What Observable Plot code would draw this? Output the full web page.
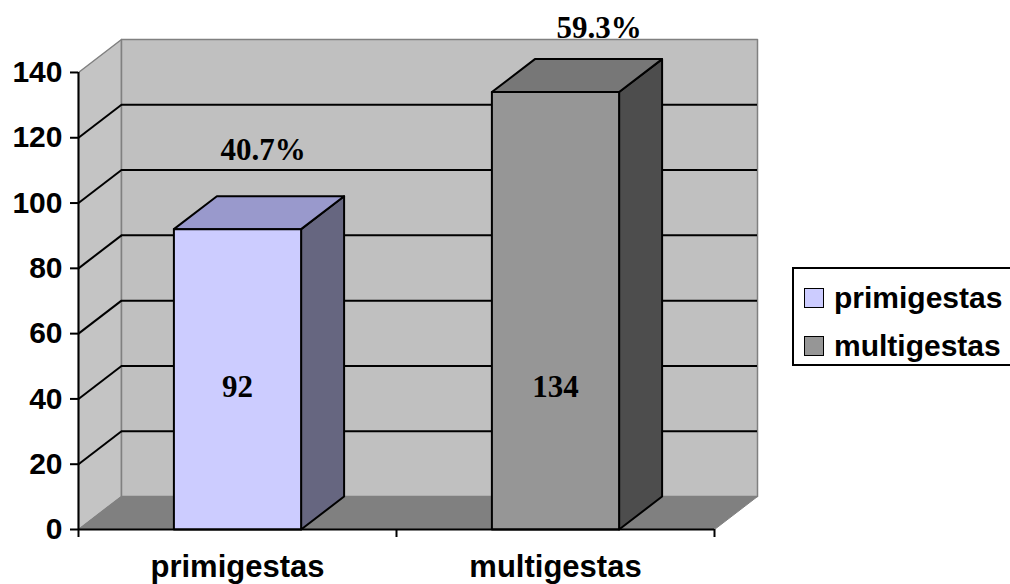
<!DOCTYPE html>
<html>
<head>
<meta charset="utf-8">
<script src="https://cdn.jsdelivr.net/npm/d3@7"></script>
<script src="https://cdn.jsdelivr.net/npm/@observablehq/plot@0.6"></script>
<style>
  html, body { margin: 0; padding: 0; background: #fff; overflow: hidden; }
  #wrap { position: relative; width: 1010px; height: 584px; }
  #legend {
    position: absolute; left: 792px; top: 267px; width: 240px; height: 95px;
    border: 2px solid #000; background: #fff;
    font-family: "Liberation Sans", Arial, sans-serif; font-weight: bold; font-size: 30px;
  }
  .item { position: absolute; left: 10px; display: flex; align-items: center; white-space: nowrap; }
  .sw { width: 18px; height: 18px; border: 1.5px solid #000; margin-right: 10px; }
</style>
</head>
<body>
<div id="wrap"><div id="legend"></div></div>
<script>
// Number of pregnant women by parity
const categories = ["primigestas", "multigestas"];
const counts = [92, 134];
const yTicks = [0, 20, 40, 60, 80, 100, 120, 140];

// Face colours per series: front, top, side
const palette = [
  {front: "#ccccff", top: "#9999cc", side: "#666680"},
  {front: "#969696", top: "#777777", side: "#4d4d4d"}
];

// Pseudo-3D depth of walls and bars, in scale units (x: category widths, y: counts)
const DX = 43 / 318;
const DY = 10.1;
const YMAX = 140;
const BAR_HALF = 0.2;

const total = d3.sum(counts);
const pct = counts.map(c => (100 * c / total).toFixed(1) + "%");

const closed = pts => [...pts, pts[0]];
const face = (pts, fill, stroke = "#000", strokeWidth = 2) =>
  Plot.line(closed(pts), {x: d => d[0], y: d => d[1], fill, stroke, strokeWidth, strokeLinejoin: "round"});

const marks = [];

// Walls and floor
marks.push(face([[0, 0], [0, YMAX], [DX, YMAX + DY], [DX, DY]], "#c4c4c4", "#808080", 1.5));
marks.push(face([[DX, DY], [DX, YMAX + DY], [2 + DX, YMAX + DY], [2 + DX, DY]], "#c0c0c0", "#808080", 1.5));
marks.push(face([[0, 0], [DX, DY], [2 + DX, DY], [2, 0]], "#808080", "#808080", 1));

// Gridlines on the side wall and back wall
const inner = yTicks.filter(v => v > 0 && v < YMAX);
marks.push(Plot.link(inner, {x1: 0, y1: v => v, x2: DX, y2: v => v + DY, stroke: "#000", strokeWidth: 2}));
marks.push(Plot.ruleY(inner, {y: v => v + DY, x1: DX, x2: 2 + DX, stroke: "#000", strokeWidth: 2}));

// Bars: side, top, then front face
counts.forEach((v, i) => {
  const x0 = i + 0.5 - BAR_HALF, x1 = i + 0.5 + BAR_HALF;
  const c = palette[i];
  marks.push(face([[x1, 0], [x1, v], [x1 + DX, v + DY], [x1 + DX, DY]], c.side));
  marks.push(face([[x0, v], [x0 + DX, v + DY], [x1 + DX, v + DY], [x1, v]], c.top));
  marks.push(face([[x0, 0], [x0, v], [x1, v], [x1, 0]], c.front));
});

// Front axes
marks.push(Plot.ruleX([0], {y1: 0, y2: YMAX, stroke: "#000", strokeWidth: 2}));
marks.push(Plot.ruleY([0], {x1: 0, x2: 2, stroke: "#000", strokeWidth: 2}));
marks.push(Plot.axisY({ticks: yTicks, tickSize: 8, tickPadding: 8, strokeWidth: 2, label: null,
  fontSize: 30, fill: "#000"}));
marks.push(Plot.axisX({ticks: [0, 1, 2], tickSize: 8, strokeWidth: 2, tickFormat: () => "", label: null}));
marks.push(Plot.axisX({ticks: [0.5, 1.5], tickSize: 0, tickPadding: 25, label: null, fontSize: 31, fill: "#000",
  tickFormat: d => categories[Math.floor(d)]}));

// Value labels inside the bars
const serif = {fontFamily: "'Liberation Serif', 'Times New Roman', serif", fontWeight: "bold", fontSize: 31, fill: "#000"};
const insideY = 43.5;
marks.push(Plot.text(counts, {x: (d, i) => i + 0.5, y: insideY, text: d => String(d), ...serif}));

// Percentage labels above the bars
const pctNudge = [[4, -63], [22, -47]];
counts.forEach((v, i) => {
  marks.push(Plot.text([pct[i]], {x: i + 0.5 + DX / 2, y: v + DY / 2, text: d => d,
    dx: pctNudge[i][0], dy: pctNudge[i][1], ...serif}));
});

const chart = Plot.plot({
  width: 1010,
  height: 584,
  marginLeft: 78,
  marginRight: 253,
  marginTop: 39,
  marginBottom: 55,
  x: {domain: [0, 2 + DX], axis: null},
  y: {domain: [0, YMAX + DY], axis: null},
  style: {fontFamily: "'Liberation Sans', Arial, sans-serif", fontWeight: "bold", background: "transparent", overflow: "visible"},
  marks
});
document.getElementById("wrap").prepend(chart);

// Legend
const legend = document.getElementById("legend");
categories.forEach((name, i) => {
  const item = document.createElement("div");
  item.className = "item";
  item.style.top = (i === 0 ? 12 : 60) + "px";
  const sw = document.createElement("span");
  sw.className = "sw";
  sw.style.background = palette[i].front;
  const label = document.createElement("span");
  label.textContent = name;
  item.append(sw, label);
  legend.append(item);
});
</script>
</body>
</html>
